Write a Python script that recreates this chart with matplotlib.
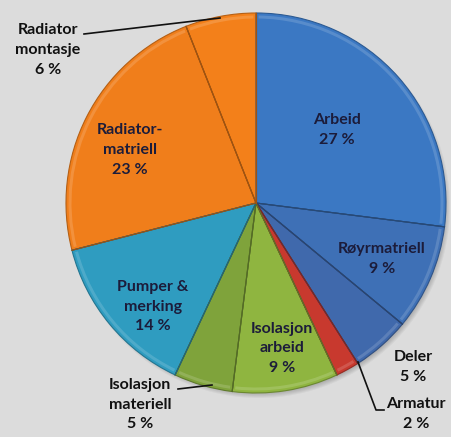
import numpy as np
import matplotlib.pyplot as plt
from matplotlib.patches import Wedge

labels = ["Arbeid", "Røyrmatriell", "Deler", "Armatur", "Isolasjon\narbeid",
          "Isolasjon\nmateriell", "Pumper &\nmerking", "Radiator-\nmatriell",
          "Radiator\nmontasje"]
shares = [27, 9, 5, 2, 9, 5, 14, 23, 6]
colors = ["#3B78C3", "#3E70B6", "#4069AC", "#C8392E", "#8FB540",
          "#7FA33B", "#2F9CC0", "#F07E1B", "#F3801A"]

# label anchor points (pixels from top-left) and optional leader lines
label_pos = [(337, 130), (382, 259), (413, 367), (416, 414), (282, 348),
             (140, 405), (153, 307), (130, 150), (48, 50)]
leaders = {3: [(358, 362), (376, 410), (384, 410)],
           5: [(178, 389), (212, 385)],
           8: [(84, 34), (220, 18)]}
inside = [True, True, False, False, True, False, True, True, False]

W, H = 451, 437
cx, cy, r = 256, H - 203, 190

def shade(c, f):
    c = np.array(plt.matplotlib.colors.to_rgb(c))
    if f > 0:
        return tuple(c + (1 - c) * f)
    return tuple(c * (1 + f))

fig = plt.figure(figsize=(W / 100, H / 100), dpi=100)
fig.patch.set_facecolor("#DCDCDC")
ax = fig.add_axes([0, 0, 1, 1])

# soft shadow under the pie
for k in range(6):
    ax.add_patch(plt.Circle((cx + 3, cy - 4), r + 1 - k, color="black",
                            alpha=0.04, lw=0))

wedges, _ = ax.pie(shares, colors=colors, startangle=90, counterclock=False,
                   center=(cx, cy), radius=r, frame=True,
                   wedgeprops=dict(edgecolor=None, linewidth=0))
ax.set_xlim(0, W)
ax.set_ylim(0, H)
ax.set_aspect("equal")
ax.axis("off")

# bevel: darker outline plus a lighter inner rim on each slice
for w, c in zip(wedges, colors):
    t1, t2 = w.theta1, w.theta2
    ax.add_patch(Wedge((cx, cy), r, t1, t2, fill=False,
                       edgecolor=shade(c, -0.25), lw=0.8))
    ax.add_patch(Wedge((cx, cy), r - 2.5, t1 + 0.8, t2 - 0.8, width=3,
                       facecolor=shade(c, 0.25), edgecolor="none", alpha=0.6))
    for t in (t1, t2):
        a = np.radians(t)
        ax.plot([cx, cx + r * np.cos(a)], [cy, cy + r * np.sin(a)],
                color=shade(c, -0.35), lw=0.8)

for i, (lab, s) in enumerate(zip(labels, shares)):
    x, y = label_pos[i]
    col = "#1C1C3A" if inside[i] else "#111111"
    ax.text(x, H - y, f"{lab}\n{s} %", ha="center", va="center",
            fontsize=11.5, fontweight="bold", family=["Lato", "DejaVu Sans"],
            color=col, linespacing=1.5)
    if i in leaders:
        pts = np.array(leaders[i], dtype=float)
        ax.plot(pts[:, 0], H - pts[:, 1], color="#111111", lw=1.2)

fig.savefig("out.png", dpi=100, facecolor=fig.get_facecolor())
